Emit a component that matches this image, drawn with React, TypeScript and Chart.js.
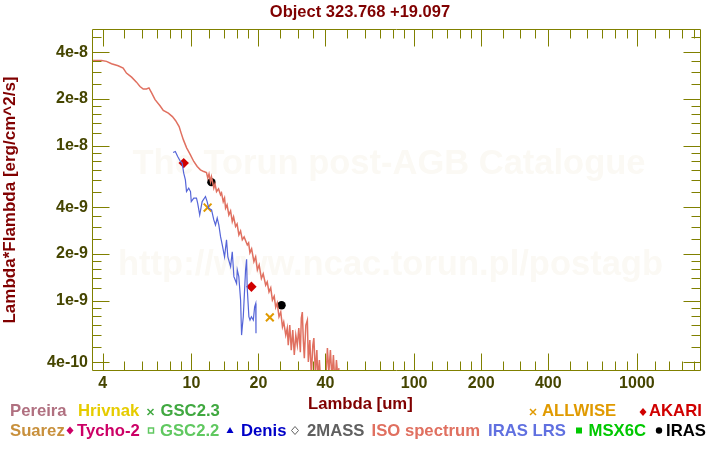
import React, { useEffect, useRef } from 'react';
import { Chart, registerables } from 'chart.js';

Chart.register(...registerables);

// ---------------- DATA ----------------
const isoLambda = [
  3.62, 3.95, 4.16, 4.38, 4.69, 4.94, 5.11, 5.39, 5.67, 5.88, 6.08, 6.29, 6.45, 6.63, 6.87,
  7.23, 7.48, 7.88, 8.22, 8.5, 8.81, 8.99, 9.21, 9.53, 9.63, 9.9, 10.25, 10.62, 10.98, 11.37,
  11.69, 11.85, 12.0, 12.19, 12.31, 12.61, 12.77, 12.97, 13.24, 13.52, 13.66, 13.9, 14.09, 14.24,
  14.46, 14.73, 15.0, 15.26, 15.47, 15.79, 16.04, 16.34, 16.63, 16.93, 17.25, 17.83, 18.07, 18.32,
  18.64, 19.09, 19.43, 19.78, 20.15, 20.62, 21.01, 21.56, 21.9, 22.31, 22.71, 23.11, 23.54, 23.91,
  24.29, 24.74, 25.19, 25.64, 25.98, 26.53, 26.94, 27.22, 27.65, 28.08, 28.52, 28.97, 29.43, 29.89,
  30.36, 30.84, 31.16, 31.48, 31.81, 32.14, 32.65, 33.16, 33.5, 34.03, 34.56, 35.1, 35.47, 36.02,
  36.59, 36.97, 37.55, 38.14, 38.73, 39.34, 40.17, 40.8, 41.43, 42.08, 42.75, 43.42, 44.1, 44.79,
  45.49, 45.96,
];
const isoFlux = [
  3.55e-8, 3.55e-8, 3.5e-8, 3.38e-8, 3.28e-8, 3.17e-8, 2.94e-8, 2.77e-8, 2.57e-8, 2.41e-8, 2.32e-8,
  2.32e-8, 2.36e-8, 2.19e-8, 1.98e-8, 1.81e-8, 1.69e-8, 1.62e-8, 1.54e-8, 1.45e-8, 1.33e-8, 1.21e-8,
  1.09e-8, 9.65e-9, 9.4e-9, 8.73e-9, 7.91e-9, 7.34e-9, 6.99e-9, 6.81e-9, 6.71e-9, 6.18e-9, 6.58e-9,
  5.87e-9, 6.3e-9, 5.32e-9, 5.67e-9, 5.06e-9, 5.27e-9, 4.82e-9, 4.96e-9, 4.36e-9, 4.6e-9, 3.95e-9,
  4.15e-9, 3.58e-9, 3.8e-9, 3.24e-9, 3.47e-9, 3.01e-9, 3.13e-9, 2.66e-9, 2.82e-9, 2.47e-9, 2.58e-9,
  2.29e-9, 2.36e-9, 2.04e-9, 2.16e-9, 1.79e-9, 1.92e-9, 1.58e-9, 1.7e-9, 1.39e-9, 1.49e-9, 1.26e-9,
  1.32e-9, 1.14e-9, 1.21e-9, 1.01e-9, 1.07e-9, 9.06e-10, 9.66e-10, 7.88e-10, 8.45e-10, 6.79e-10,
  7.28e-10, 6.0e-10, 6.66e-10, 5.17e-10, 6.97e-10, 4.8e-10, 6.47e-10, 4.46e-10, 6.0e-10, 5.17e-10,
  6.66e-10, 4.66e-10, 7.73e-10, 8.45e-10, 5.57e-10, 4.26e-10, 6.97e-10, 7.5e-10, 4.02e-10, 5.57e-10,
  3.31e-10, 5.17e-10, 5.74e-10, 3.46e-10, 4.8e-10, 3.07e-10, 4.14e-10, 2.85e-10, 3.57e-10, 2.65e-10,
  3.07e-10, 4.95e-10, 3.46e-10, 4.8e-10, 3.17e-10, 4.46e-10, 2.85e-10, 4.14e-10, 3.17e-10, 3.67e-10,
];

const lrsLambda = [
  8.28, 8.47, 8.68, 8.93, 9.09, 9.24, 9.4, 9.51, 9.73, 9.91, 9.99, 10.25, 10.54, 10.67, 10.9, 11.18,
  11.57, 11.77, 11.97, 12.32, 12.61, 12.83, 13.06, 13.28, 13.52, 13.76, 14.09, 14.38, 14.58, 15.0,
  15.26, 15.52, 15.96, 16.07, 16.33, 16.63, 16.8, 16.93, 17.1, 17.51, 17.7, 17.8, 18.12, 18.33, 18.6,
  18.97, 19.23, 19.45, 19.5,
];
const lrsFlux = [
  9.04e-9, 9.17e-9, 8.51e-9, 7.91e-9, 7.72e-9, 6.65e-9, 6.02e-9, 5.06e-9, 5.32e-9, 5.06e-9, 4.36e-9,
  4.59e-9, 4.59e-9, 4.26e-9, 3.58e-9, 4.36e-9, 4.7e-9, 4.36e-9, 3.95e-9, 3.86e-9, 3.32e-9, 3.08e-9,
  3.41e-9, 3.08e-9, 2.59e-9, 2.29e-9, 1.92e-9, 2.47e-9, 1.92e-9, 1.66e-9, 2.07e-9, 1.43e-9, 1.29e-9,
  1.58e-9, 1.43e-9, 1.01e-9, 6.0e-10, 6.8e-10, 7.88e-10, 1.58e-9, 1.85e-9, 1.23e-9, 7.88e-10,
  7.5e-10, 7.88e-10, 7.5e-10, 9.14e-10, 9.6e-10, 6.16e-10,
];

const akariLambda = [9.24, 18.6];
const akariFlux = [7.72e-9, 1.23e-9];
const irasLambda = [12.3, 25.4];
const irasFlux = [5.82e-9, 9.34e-10];
const allwiseLambda = [11.83, 22.5];
const allwiseFlux = [3.99e-9, 7.81e-10];

const xTickValues = [
  4, 5, 6, 7, 8, 9, 10, 12, 14, 16, 18, 20, 25, 30, 35, 40, 50, 60, 70, 80, 90, 100, 120, 140, 160,
  180, 200, 250, 300, 350, 400, 500, 600, 700, 800, 900, 1000, 1200, 1400, 1600, 1800,
];
const xLabelValues = [4, 10, 20, 40, 100, 200, 400, 1000];
const xLabelTexts = ['4', '10', '20', '40', '100', '200', '400', '1000'];

const yTickValues = [
  4e-10, 5e-10, 6e-10, 7e-10, 8e-10, 9e-10, 1e-9, 1.2e-9, 1.4e-9, 1.6e-9, 1.8e-9, 2e-9, 2.5e-9, 3e-9,
  3.5e-9, 4e-9, 5e-9, 6e-9, 7e-9, 8e-9, 9e-9, 1e-8, 1.2e-8, 1.4e-8, 1.6e-8, 1.8e-8, 2e-8, 2.5e-8,
  3e-8, 3.5e-8, 4e-8, 5e-8,
];
const yLabelValues = [4e-10, 1e-9, 2e-9, 4e-9, 1e-8, 2e-8, 4e-8];
const yLabelTexts = ['4e-10', '1e-9', '2e-9', '4e-9', '1e-8', '2e-8', '4e-8'];

const titleText = 'Object 323.768 +19.097';
const xTitleText = 'Lambda [um]';
const yTitleText = 'Lambda*Flambda [erg/cm^2/s]';
const watermarkLines = ['The Torun post-AGB Catalogue', 'http://www.ncac.torun.pl/postagb'];

// legend (text, colour); layout kept separately below
const legendTexts = [
  ['Pereira', '#b07080'], ['Hrivnak', '#e6cc00'], ['GSC2.3', '#40a840'], ['ALLWISE', '#e09a00'],
  ['AKARI', '#d00000'], ['Suarez', '#c8903c'], ['Tycho-2', '#cc0066'], ['GSC2.2', '#60c860'],
  ['Denis', '#0000c8'], ['2MASS', '#606060'], ['ISO spectrum', '#e07060'], ['IRAS LRS', '#6070e0'],
  ['MSX6C', '#00c800'], ['IRAS', '#000000'],
];

// ---------------- LAYOUT / STYLE ----------------
const FONT = '"Liberation Sans", Arial, Helvetica, sans-serif';
const legendTextPos = [
  [10, 0], [78, 0], [160.5, 0], [542, 0], [649, 0],
  [10, 1], [77, 1], [160, 1], [241, 1], [307, 1], [371.5, 1], [488, 1], [588.5, 1], [666, 1],
];
const legendMarkers = [
  { shape: 'cross', color: '#40a840', cx: 150.5, row: 0 },
  { shape: 'cross', color: '#e09a00', cx: 533, row: 0 },
  { shape: 'diamond', color: '#d00000', cx: 643, row: 0 },
  { shape: 'diamond', color: '#cc0066', cx: 70, row: 1 },
  { shape: 'squareOpen', color: '#60c860', cx: 151, row: 1 },
  { shape: 'triangle', color: '#0000c8', cx: 230, row: 1 },
  { shape: 'diamondOpen', color: '#606060', cx: 295, row: 1 },
  { shape: 'square', color: '#00c800', cx: 579, row: 1 },
  { shape: 'circle', color: '#000000', cx: 659, row: 1 },
];
const rowBaseline = [416, 435.5];
const rowMarkerY = [412, 430.5];

const near = (a: number, b: number) => Math.abs(a - b) <= Math.abs(b) * 1e-6;
const isXLabel = (v: number) => xLabelValues.some((l) => near(v, l));
const isYLabel = (v: number) => yLabelValues.some((l) => near(v, l));

const zip = (xs: number[], ys: number[]) => xs.map((x, i) => ({ x, y: ys[i] }));

const decorPlugin = {
  id: 'decor',
  beforeDatasetsDraw(chart: any) {
    const { ctx } = chart;
    ctx.save();
    ctx.fillStyle = '#fbf9f4';
    ctx.font = `bold 34.5px ${FONT}`;
    ctx.textAlign = 'center';
    ctx.textBaseline = 'alphabetic';
    ctx.fillText(watermarkLines[0], 389, 174);
    ctx.fillText(watermarkLines[1], 390.5, 275);
    ctx.restore();
  },
  afterDatasetsDraw(chart: any) {
    const { ctx, chartArea, scales } = chart;
    const { left, right, top, bottom } = chartArea;
    const xs = scales.x;
    const ys = scales.y;
    ctx.save();
    ctx.strokeStyle = '#808000';
    ctx.lineWidth = 1;
    ctx.beginPath();
    const L = Math.round(left) + 0.5;
    const R = Math.round(right) - 0.5;
    const T = Math.round(top) + 0.5;
    const B = Math.round(bottom) - 0.5;
    ctx.moveTo(L, T);
    ctx.lineTo(R, T);
    ctx.lineTo(R, B);
    ctx.lineTo(L, B);
    ctx.closePath();
    xTickValues.forEach((v) => {
      const p = Math.round(xs.getPixelForValue(v)) + 0.5;
      if (p < L || p > R) return;
      const len = isXLabel(v) ? 17 : 9;
      ctx.moveTo(p, B);
      ctx.lineTo(p, B - len);
      ctx.moveTo(p, T);
      ctx.lineTo(p, T + len);
    });
    yTickValues.forEach((v) => {
      const p = Math.round(ys.getPixelForValue(v)) + 0.5;
      if (p < T || p > B) return;
      const len = isYLabel(v) ? 17 : 9;
      ctx.moveTo(L, p);
      ctx.lineTo(L + len, p);
      ctx.moveTo(R, p);
      ctx.lineTo(R - len, p);
    });
    ctx.stroke();
    ctx.restore();
  },
  afterDraw(chart: any) {
    const { ctx } = chart;
    ctx.save();
    ctx.font = `bold 16.7px ${FONT}`;
    ctx.textBaseline = 'alphabetic';
    ctx.textAlign = 'left';
    ctx.fillStyle = '#800000';
    ctx.fillText(xTitleText, 308, 409);
    legendTexts.forEach(([t, c], i) => {
      const [x, row] = legendTextPos[i];
      ctx.fillStyle = c;
      ctx.fillText(t, x, rowBaseline[row]);
    });
    legendMarkers.forEach((m) => {
      const cx = m.cx;
      const cy = rowMarkerY[m.row];
      ctx.fillStyle = m.color;
      ctx.strokeStyle = m.color;
      ctx.lineWidth = 1.5;
      ctx.beginPath();
      if (m.shape === 'cross') {
        ctx.moveTo(cx - 3, cy - 3);
        ctx.lineTo(cx + 3, cy + 3);
        ctx.moveTo(cx + 3, cy - 3);
        ctx.lineTo(cx - 3, cy + 3);
        ctx.stroke();
      } else if (m.shape === 'diamond' || m.shape === 'diamondOpen') {
        ctx.moveTo(cx, cy - 4);
        ctx.lineTo(cx + 3.5, cy);
        ctx.lineTo(cx, cy + 4);
        ctx.lineTo(cx - 3.5, cy);
        ctx.closePath();
        if (m.shape === 'diamond') ctx.fill();
        else {
          ctx.lineWidth = 1;
          ctx.stroke();
        }
      } else if (m.shape === 'squareOpen') {
        ctx.lineWidth = 1.5;
        ctx.strokeRect(cx - 2.5, cy - 2.5, 5, 5);
      } else if (m.shape === 'square') {
        ctx.fillRect(cx - 3, cy - 3, 6, 6);
      } else if (m.shape === 'triangle') {
        ctx.moveTo(cx, cy - 3.5);
        ctx.lineTo(cx + 3.5, cy + 2.5);
        ctx.lineTo(cx - 3.5, cy + 2.5);
        ctx.closePath();
        ctx.fill();
      } else if (m.shape === 'circle') {
        ctx.arc(cx, cy, 3.2, 0, Math.PI * 2);
        ctx.fill();
      }
    });
    ctx.restore();
  },
};

export default function App() {
  const ref = useRef<HTMLCanvasElement>(null);
  useEffect(() => {
    if (!ref.current) return;
    const tickFont = { family: FONT, size: 16, weight: 'bold' as const };
    const chart = new Chart(ref.current, {
      type: 'scatter',
      data: {
        datasets: [
          {
            label: 'ISO spectrum',
            data: zip(isoLambda, isoFlux),
            showLine: true,
            borderColor: '#e07060',
            backgroundColor: '#e07060',
            borderWidth: 1.5,
            pointRadius: 0,
            tension: 0,
          },
          {
            label: 'IRAS LRS',
            data: zip(lrsLambda, lrsFlux),
            showLine: true,
            borderColor: '#5565d8',
            backgroundColor: '#5565d8',
            borderWidth: 1.2,
            pointRadius: 0,
            tension: 0,
          },
          {
            label: 'ALLWISE',
            data: zip(allwiseLambda, allwiseFlux),
            pointStyle: 'crossRot',
            pointRadius: 5.5,
            borderWidth: 2,
            borderColor: '#e09a00',
            backgroundColor: '#e09a00',
          },
          {
            label: 'AKARI',
            data: zip(akariLambda, akariFlux),
            pointStyle: 'rectRot',
            pointRadius: 5.2,
            borderWidth: 0,
            backgroundColor: '#d00000',
            borderColor: '#d00000',
          },
          {
            label: 'IRAS',
            data: zip(irasLambda, irasFlux),
            pointStyle: 'circle',
            pointRadius: 4.2,
            borderWidth: 0,
            backgroundColor: '#000000',
            borderColor: '#000000',
          },
        ],
      },
      options: {
        animation: false,
        responsive: false,
        maintainAspectRatio: false,
        layout: { padding: { left: 0, right: 0, top: 0, bottom: 0 } },
        plugins: {
          legend: { display: false },
          tooltip: { enabled: false },
          title: {
            display: true,
            text: titleText,
            color: '#800000',
            font: { family: FONT, size: 16.5, weight: 'bold', lineHeight: 1.2 },
            padding: { top: 3, bottom: 6.2 },
          },
        },
        scales: {
          x: {
            type: 'logarithmic',
            position: 'bottom',
            min: 3.58,
            max: 1940,
            grid: { display: false, drawTicks: false },
            border: { display: false },
            ticks: {
              autoSkip: false,
              maxRotation: 0,
              minRotation: 0,
              padding: 3,
              color: '#454500',
              font: tickFont,
              callback: (v: any) => {
                const i = xLabelValues.findIndex((l) => near(Number(v), l));
                return i >= 0 ? xLabelTexts[i] : '';
              },
            },
            afterBuildTicks: (s: any) => {
              s.ticks = xTickValues.map((value) => ({ value }));
            },
            afterFit: (s: any) => {
              s.height = 79;
            },
          },
          y: {
            type: 'logarithmic',
            position: 'left',
            min: 3.52e-10,
            max: 5.66e-8,
            grid: { display: false, drawTicks: false },
            border: { display: false },
            title: {
              display: true,
              text: yTitleText,
              color: '#800000',
              font: { family: FONT, size: 17, weight: 'bold' },
              padding: { top: 0, bottom: 0 },
            },
            ticks: {
              autoSkip: false,
              padding: 4,
              color: '#454500',
              font: tickFont,
              callback: (v: any) => {
                const i = yLabelValues.findIndex((l) => near(Number(v), l));
                return i >= 0 ? yLabelTexts[i] : '';
              },
            },
            afterBuildTicks: (s: any) => {
              s.ticks = yTickValues.map((value) => ({ value }));
            },
            afterFit: (s: any) => {
              s.width = 92;
            },
          },
          yRight: {
            type: 'logarithmic',
            position: 'right',
            min: 3.52e-10,
            max: 5.66e-8,
            grid: { display: false, drawTicks: false },
            border: { display: false },
            ticks: { display: false },
            afterFit: (s: any) => {
              s.width = 19;
            },
          },
        },
      },
      plugins: [decorPlugin],
    });
    return () => chart.destroy();
  }, []);
  return (
    <div style={{ position: 'absolute', left: 0, top: 0, width: 720, height: 450, background: '#ffffff' }}>
      <canvas ref={ref} width={720} height={450} style={{ display: 'block', width: 720, height: 450 }} />
    </div>
  );
}
